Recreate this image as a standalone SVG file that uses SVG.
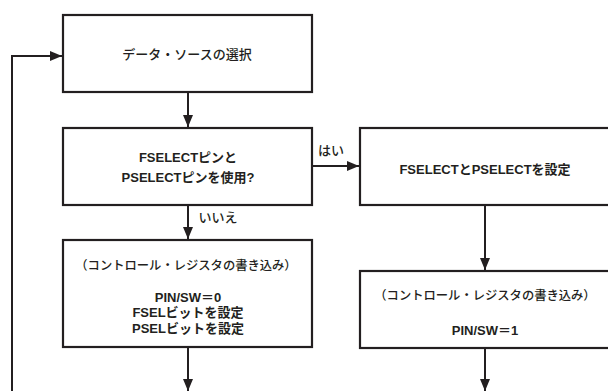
<svg xmlns="http://www.w3.org/2000/svg" width="608" height="391" viewBox="0 0 608 391">
<style>
.box{fill:#fff;stroke:#231f20;stroke-width:2.2}
.ln{fill:none;stroke:#231f20;stroke-width:2}
text{font-family:"Liberation Sans","Noto Sans CJK JP",sans-serif;font-size:13px;fill:#231f20;text-anchor:middle;font-weight:bold}
.j{font-weight:500}
.p{font-size:12.3px;font-weight:500}
</style>
<defs>
<marker id="ah" markerWidth="12" markerHeight="10" refX="12" refY="5" orient="auto" markerUnits="userSpaceOnUse">
<path d="M0,0 L12,5 L0,10 Z" fill="#231f20"/>
</marker>
</defs>
<g id="n1"><rect class="box" x="63" y="15" width="249" height="77"/><text class="j" x="187" y="59">データ・ソースの選択</text></g>
<g id="n2"><rect class="box" x="63" y="128" width="249" height="77"/><text x="188" y="162">FSELECTピンと</text><text x="188" y="182">PSELECTピンを使用?</text></g>
<g id="n3"><rect class="box" x="63" y="240" width="249" height="107"/><text class="p" x="186" y="270">（コントロール・レジスタの書き込み）</text><text x="188" y="302">PIN/SW＝0</text><text x="188" y="317">FSELビットを設定</text><text x="188" y="333">PSELビットを設定</text></g>
<g id="n4"><rect class="box" x="360" y="128" width="252" height="77"/><text x="485" y="174">FSELECTとPSELECTを設定</text></g>
<g id="n5"><rect class="box" x="360" y="271" width="252" height="77"/><text class="p" x="485" y="300">（コントロール・レジスタの書き込み）</text><text x="485" y="335">PIN/SW＝1</text></g>
<g id="edges">
<path class="ln" d="M188,93 V127" marker-end="url(#ah)"/>
<path class="ln" d="M188,206 V239" marker-end="url(#ah)"/>
<path class="ln" d="M313,166 H359" marker-end="url(#ah)"/>
<path class="ln" d="M485,206 V270" marker-end="url(#ah)"/>
<path class="ln" d="M188,348 V391" marker-end="url(#ah)"/>
<path class="ln" d="M485,349 V391" marker-end="url(#ah)"/>
<path class="ln" d="M12,391 V56 H62" marker-end="url(#ah)"/>
<text class="j" x="331" y="155">はい</text>
<text class="j" x="218" y="222">いいえ</text>
</g>
</svg>
